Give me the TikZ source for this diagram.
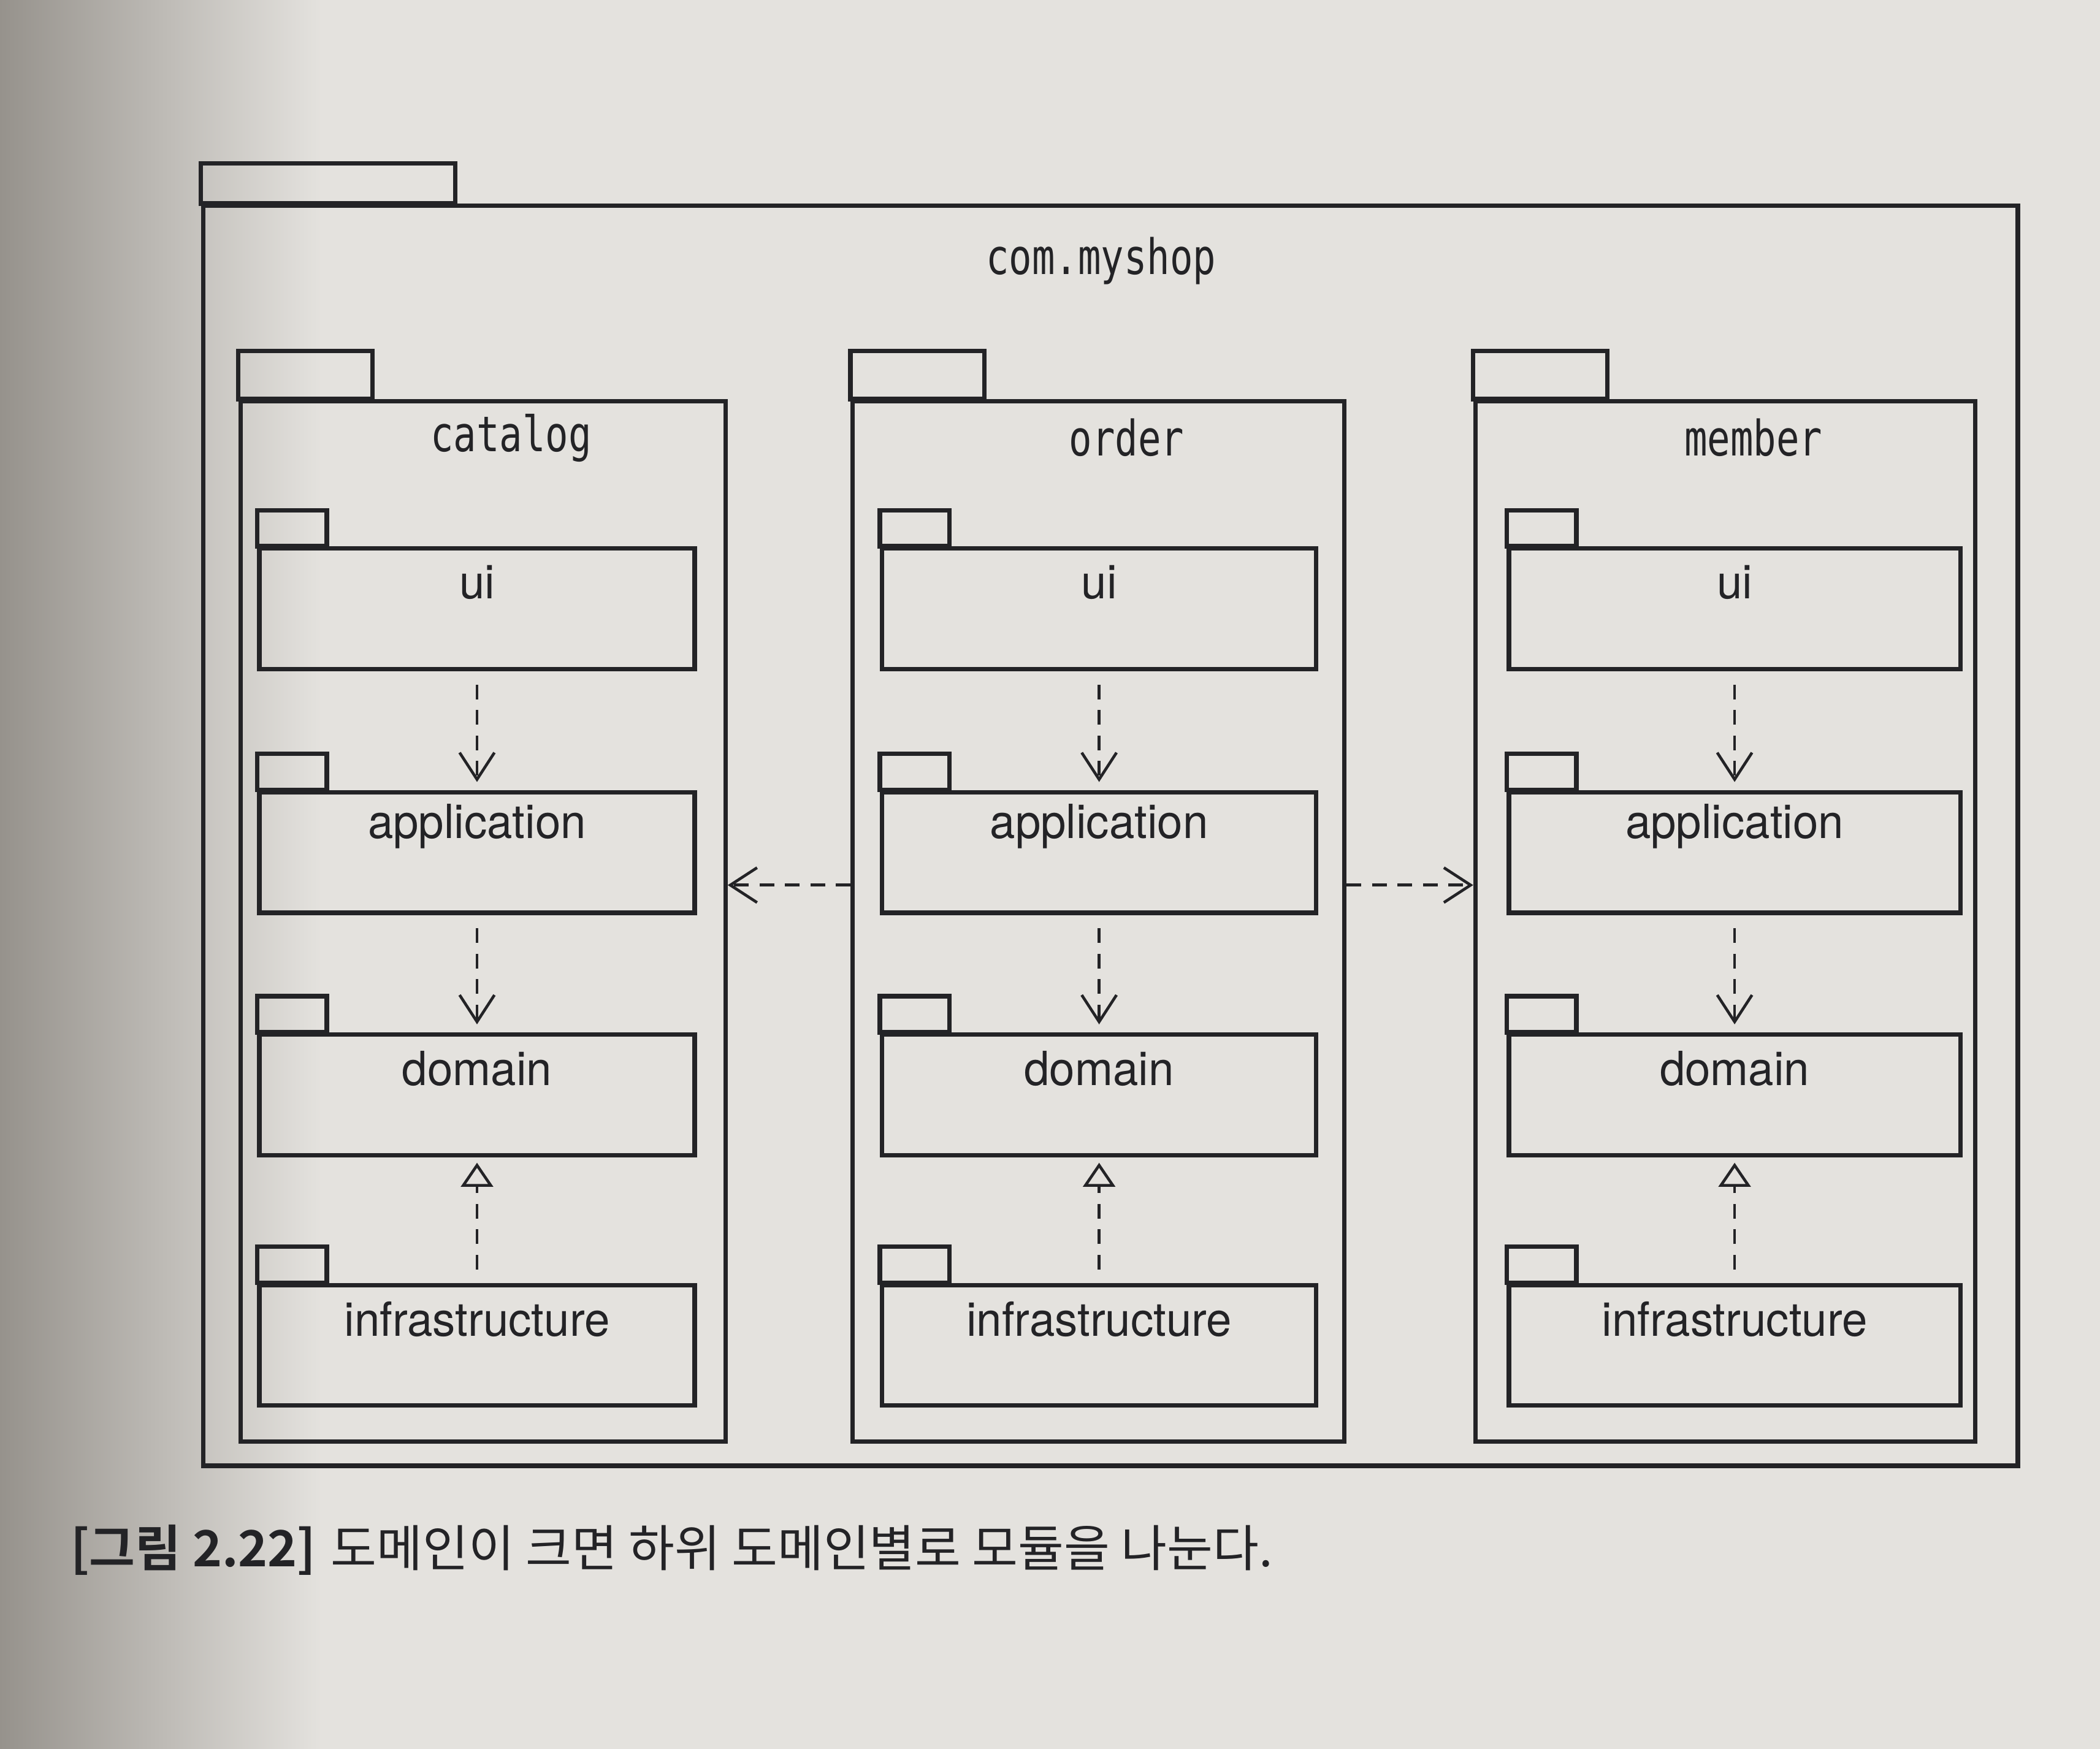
\documentclass[tikz,border=0pt]{standalone}
\usepackage{fontspec}
\usetikzlibrary{arrows.meta,positioning}
\setmainfont{TeX Gyre Heros}
\newfontfamily\pkgfont[FakeStretch=0.78]{DejaVu Sans Mono}
\newfontfamily\subfont[FakeStretch=0.97]{TeX Gyre Heros}
\newfontfamily\capfont[BoldFont={Noto Sans CJK KR Bold}]{Noto Sans CJK KR}
\definecolor{paper}{RGB}{228,226,222}
\definecolor{shadow}{RGB}{150,146,140}
\definecolor{ink}{RGB}{35,35,38}

\tikzset{
  pkg/.style={draw=ink,line width=0.95pt,anchor=north west,inner sep=0pt},
  pkgtab/.style={draw=ink,line width=0.95pt},
  outlabel/.style={font=\pkgfont\fontsize{10.4}{12}\selectfont,text=ink},
  inlabel/.style={font=\subfont\fontsize{10}{12}\selectfont,text=ink},
  dep/.style={draw=ink,line width=0.6pt,dash pattern=on 1.1mm off 0.8mm,
    -{Straight Barb[length=2mm,width=2.6mm]}},
  real/.style={draw=ink,line width=0.6pt,dash pattern=on 1.1mm off 0.8mm,
    -{Triangle[open,length=1.8mm,width=2.4mm]}},
}

\begin{document}
\begin{tikzpicture}
  \fill[paper] (0,0) rectangle (15.68,13.06);
  \shade[left color=shadow,right color=paper] (0,0) rectangle (2.4,13.06);
  \useasboundingbox (0,0) rectangle (15.68,13.06);

  % com.myshop
  \node[pkg,minimum width=13.55cm,minimum height=9.41cm] (shop) at (1.50,11.54) {};
  \draw[pkgtab] (shop.north west) rectangle ++(1.9,0.3);
  \node[outlabel] at ([xshift=-0.07cm,yshift=-0.43cm]shop.north) {com.myshop};

  % catalog, order, member
  \foreach \c/\t/\x/\w in {cat/catalog/1.78/3.62, ord/order/6.35/3.67, mem/member/11.00/3.73} {
    \node[pkg,minimum width=\w cm,minimum height=7.77cm] (\c) at (\x,10.08) {};
    \draw[pkgtab] (\c.north west) rectangle ++(1.0,0.36);
    \node[outlabel] at ([xshift=0.21cm,yshift=-0.29cm]\c.north) {\t};
  }

  \foreach \c/\x/\w in {cat/1.92/3.25, ord/6.57/3.24, mem/11.25/3.37} {
    \foreach \r/\t/\y in {ui/ui/8.98, app/application/7.16, dom/domain/5.35, inf/infrastructure/3.48} {
      \node[pkg,minimum width=\w cm,minimum height=0.9cm] (\c-\r) at (\x,\y) {};
      \draw[pkgtab] (\c-\r.north west) rectangle ++(0.52,0.27);
      \node[inlabel] at ([yshift=-0.27cm]\c-\r.north) {\t};
    }
    \draw[dep,shorten <=1mm,shorten >=0.6mm] (\c-ui) -- (\c-app);
    \draw[dep,shorten <=1mm,shorten >=0.6mm] (\c-app) -- (\c-dom);
    \draw[real,shorten <=1mm,shorten >=0.4mm] (\c-inf) -- (\c-dom);
  }

  \coordinate (lnk) at (0,6.45);
  \draw[dep] (ord.west |- lnk) -- (cat.east |- lnk);
  \draw[dep] (ord.east |- lnk) -- (mem.west |- lnk);

  \node[anchor=base west,inner sep=0pt,text=ink,font=\capfont\fontsize{10.6}{12}\selectfont]
    (cap) at (0.52,1.36) {\textbf{[그림 2.22]}\hspace{0.3em}도메인이 크면 하위 도메인별로 모듈을 나눈다.};
\end{tikzpicture}
\end{document}
